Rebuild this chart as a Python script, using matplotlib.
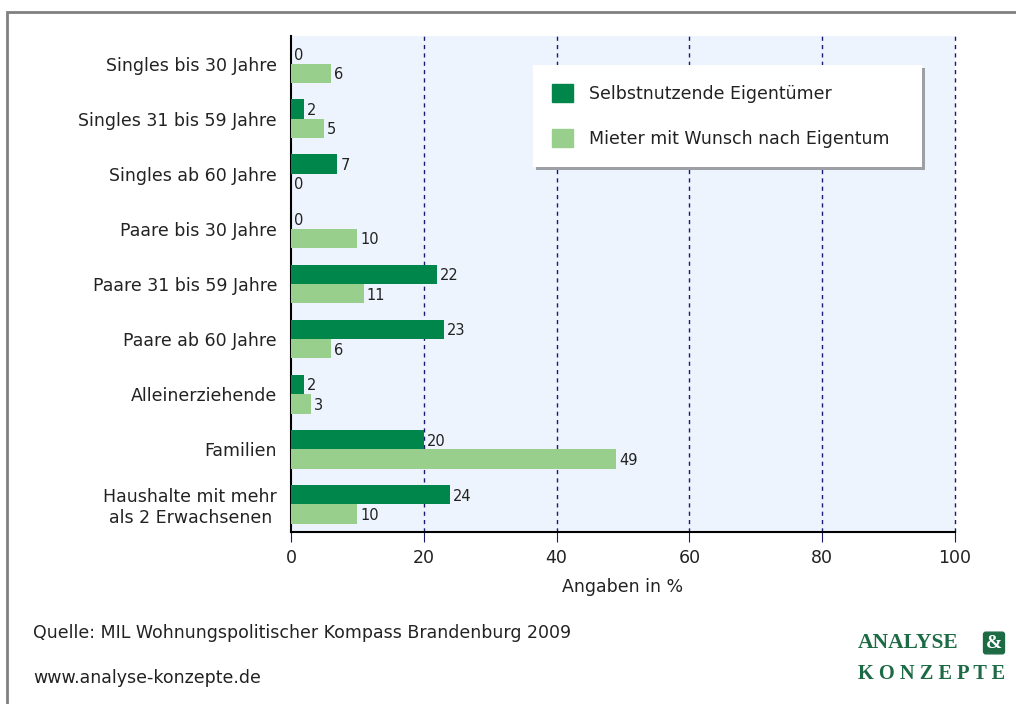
import numpy as np
import matplotlib
matplotlib.use("Agg")
import matplotlib.pyplot as plt
from matplotlib.patches import Patch, Rectangle

plt.rcParams['font.family'] = ['DejaVu Sans']

categories = ["Singles bis 30 Jahre", "Singles 31 bis 59 Jahre", "Singles ab 60 Jahre",
              "Paare bis 30 Jahre", "Paare 31 bis 59 Jahre", "Paare ab 60 Jahre",
              "Alleinerziehende", "Familien", "Haushalte mit mehr\nals 2 Erwachsenen"]
eigentuemer = [0, 2, 7, 0, 22, 23, 2, 20, 24]
mieter = [6, 5, 0, 10, 11, 6, 3, 49, 10]
series_names = ["Selbstnutzende Eigentümer", "Mieter mit Wunsch nach Eigentum"]
xticks = [0, 20, 40, 60, 80, 100]

dark = "#00854a"
light = "#99cf8c"
navy = "#1a1a6e"

fig = plt.figure(figsize=(10.16, 7.04), dpi=100)
ax = fig.add_axes([291/1016, 1-532/704, 664/1016, 496/704])
ax.set_facecolor("#edf4fd")

y = np.arange(len(categories))
h = 0.35
b1 = ax.barh(y - h/2, eigentuemer, height=h, color=dark, label=series_names[0], zorder=3)
b2 = ax.barh(y + h/2, mieter, height=h, color=light, label=series_names[1], zorder=3)
for bars in (b1, b2):
    for bar in bars:
        w = bar.get_width()
        ax.annotate(f"{w:g}", (w, bar.get_y() + bar.get_height()/2),
                    xytext=(2, -1), textcoords="offset points",
                    va="center", ha="left", fontsize=10.5, color="#222222", zorder=4)

ax.set_xlim(0, 100)
ax.set_ylim(len(categories) - 0.5, -0.5)
ax.set_xticks(xticks)
ax.set_yticks(y)
ax.set_yticklabels(categories, fontsize=12.5, color="#222222", multialignment="center")
ax.tick_params(axis="y", length=0, pad=10)
ax.tick_params(axis="x", length=7, color=navy, labelsize=12.5, labelcolor="#222222", pad=5)
for xv in xticks[1:]:
    ax.axvline(xv, color=navy, lw=1, ls=(0, (3, 3)), zorder=2, clip_on=False)
ax.set_xlabel("Angaben in %", fontsize=12.5, color="#222222", labelpad=8)

ax.spines["top"].set_visible(False)
ax.spines["right"].set_visible(False)
ax.spines["left"].set_linewidth(1.5)
ax.spines["bottom"].set_linewidth(1.5)

handles = [Patch(color=dark), Patch(color=light)]
leg = ax.legend(handles, series_names, loc="upper left",
                bbox_to_anchor=(533/1016, 1-167/704, 389/1016, 102/704),
                bbox_transform=fig.transFigure, mode="expand",
                frameon=True, fancybox=False, shadow=True, fontsize=12.5,
                handlelength=1.2, handleheight=1.2, handletextpad=0.9,
                labelspacing=1.5, borderpad=1.1, borderaxespad=0)
leg.get_frame().set_edgecolor("white")
leg.get_frame().set_linewidth(0)
for t in leg.get_texts():
    t.set_color("#222222")

fig.patches.append(Rectangle((7/1016, -0.1), 1.2, 1 - 12/704 + 0.1, fill=False,
                             edgecolor="#808080", lw=2, transform=fig.transFigure))

fig.text(33/1016, 1-633/704, "Quelle: MIL Wohnungspolitischer Kompass Brandenburg 2009",
         fontsize=12.5, color="#222222", va="center")
fig.text(33/1016, 1-678/704, "www.analyse-konzepte.de",
         fontsize=12.5, color="#222222", va="center")

logo = "#1d6b45"
fig.text(858/1016, 1-643/704, "ANALYSE", fontsize=15.5, fontweight="bold",
         family="Liberation Serif", color=logo, va="center")
fig.text(994/1016, 1-643/704, "&", fontsize=14, fontweight="bold", family="Liberation Serif",
         color="white", va="center", ha="center",
         bbox=dict(boxstyle="round,pad=0.12", fc=logo, ec=logo))
fig.text(858/1016, 1-674/704, "K O N Z E P T E", fontsize=14.7, fontweight="bold",
         family="Liberation Serif", color=logo, va="center")

fig.savefig("out.png", dpi=100)
